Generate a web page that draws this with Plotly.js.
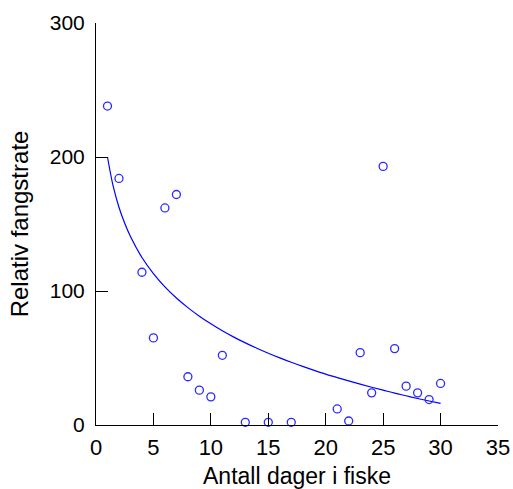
<!DOCTYPE html>
<html>
<head>
<meta charset="utf-8">
<script src="https://cdn.plot.ly/plotly-3.0.1.min.js"></script>
<style>html,body{margin:0;padding:0;background:#fff;}#chart{width:513px;height:489px;}</style>
</head>
<body>
<div id="chart"></div>
<script>
// Observed catch rates
const days = [1, 2, 4, 5, 6, 7, 8, 9, 10, 11, 13, 15, 17, 21, 22, 23, 24, 25, 26, 27, 28, 29, 30];
const catchRate = [238, 184, 114, 65, 162, 172, 36, 26, 21, 52, 2, 2, 2, 12, 3, 54, 24, 193, 57, 29, 24, 19, 31];

// Fitted curve
const curveDays = [1, 1.5, 2, 2.5, 3, 4, 5, 6, 7, 8, 9, 10, 11, 12, 13, 14, 15, 16, 17, 18, 19, 20, 21, 22, 23, 24, 25, 26, 27, 28, 29, 30];
const curveRate = [200, 178, 162.5, 150.5, 140.6, 125, 113, 103.1, 94.8, 87.6, 81.2, 75.5, 70.3, 65.6, 61.3, 57.3, 53.6, 50.1, 46.8, 43.7, 40.8, 38, 35.4, 32.9, 30.5, 28.2, 26, 23.8, 21.8, 19.8, 17.9, 16.1];

const xTicks = [0, 5, 10, 15, 20, 25, 30, 35];
const yTicks = [0, 100, 200, 300];

const traces = [
  {
    x: curveDays, y: curveRate, type: 'scatter', mode: 'lines',
    line: {color: '#0000ff', width: 1.2, shape: 'spline'},
    hoverinfo: 'skip', cliponaxis: false
  },
  {
    x: days, y: catchRate, type: 'scatter', mode: 'markers',
    marker: {symbol: 'circle-open', size: 8, color: '#2a2aff', line: {width: 1.3, color: '#2a2aff'}},
    cliponaxis: false
  }
];

const fontFam = '"Liberation Sans", Arial, sans-serif';
const layout = {
  width: 513, height: 489,
  margin: {l: 96, r: 15, t: 23, b: 64},
  showlegend: false,
  paper_bgcolor: '#fff', plot_bgcolor: '#fff',
  font: {family: fontFam, size: 20, color: '#000'},
  xaxis: {
    range: [0, 35], tickvals: xTicks, ticktext: xTicks.map(String),
    showgrid: false, zeroline: false, showline: true, linecolor: '#000', linewidth: 1,
    ticks: 'inside', ticklen: 12, tickwidth: 1, tickcolor: '#000',
    ticklabelstandoff: 3,
    tickfont: {family: fontFam, size: 22, color: '#000'},
    title: {text: 'Antall dager i fiske', font: {family: fontFam, size: 23, color: '#000'}, standoff: 10},
    automargin: false
  },
  yaxis: {
    range: [0, 300], tickvals: yTicks, ticktext: yTicks.map(String),
    showgrid: false, zeroline: false, showline: true, linecolor: '#000', linewidth: 1,
    ticks: 'inside', ticklen: 12, tickwidth: 1, tickcolor: '#000',
    ticklabelstandoff: 6,
    tickfont: {family: fontFam, size: 21, color: '#000'},
    title: {text: 'Relativ fangstrate', font: {family: fontFam, size: 24, color: '#000'}, standoff: 14},
    automargin: false
  }
};

Plotly.newPlot('chart', traces, layout, {displayModeBar: false, staticPlot: true});
</script>
</body>
</html>
